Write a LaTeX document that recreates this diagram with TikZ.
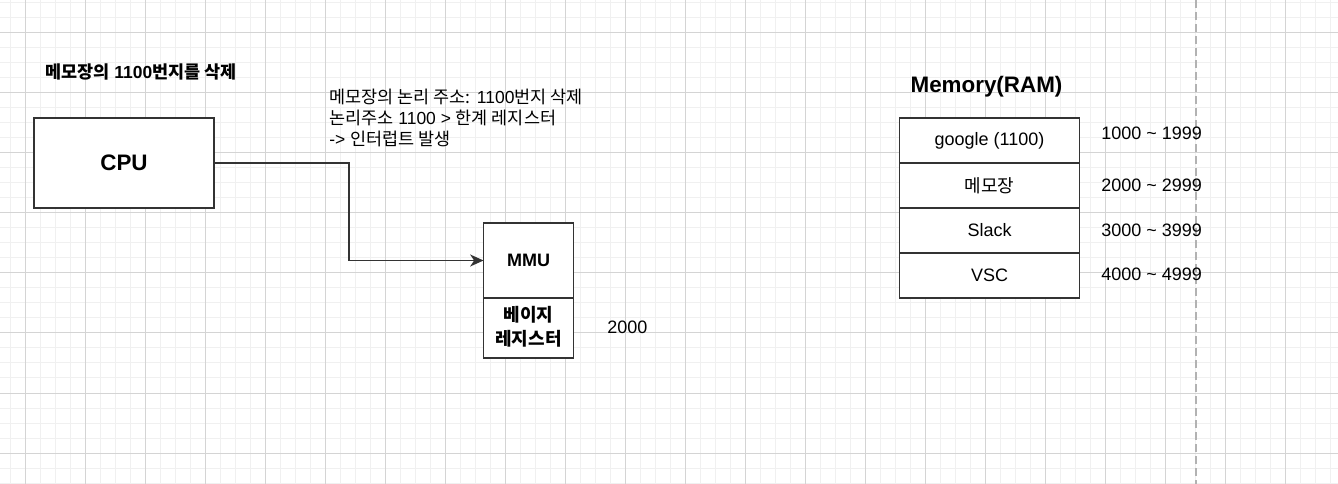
\documentclass[tikz,border=0pt]{standalone}
\usepackage{fontspec}
\setmainfont{Liberation Sans}
\newfontfamily\kr{Noto Sans CJK KR}
\usetikzlibrary{
positioning,%
arrows.meta
}
\definecolor{gridminor}{HTML}{F0F0F0}
\definecolor{gridmajor}{HTML}{D4D4D4}
\definecolor{edge}{HTML}{333333}
\newcommand{\ko}[1]{{\kr #1}}
\tikzset{
    block/.style={draw=edge, line width=1.1pt, fill=white, inner sep=0pt, outer sep=0pt, font=\fontsize{13.5}{16}\selectfont},
    cpubox/.style={block, minimum width=135pt, minimum height=67.5pt, font=\fontsize{16.8}{20}\selectfont\bfseries},
    mmubox/.style={block, minimum width=67.5pt, minimum height=56.25pt, font=\fontsize{13.5}{16}\selectfont\bfseries},
    regbox/.style={block, minimum width=67.5pt, minimum height=45pt, align=center, font=\fontsize{13.5}{17.25}\selectfont\bfseries\kr},
    cell/.style={block, minimum width=135pt, minimum height=33.75pt},
    addr/.style={anchor=west, inner sep=0pt, font=\fontsize{13.5}{16}\selectfont},
    note/.style={anchor=west, inner sep=0pt, align=left, font=\fontsize{13.1}{16.1}\selectfont},
    heading/.style={inner sep=0pt, font=\fontsize{16.8}{20}\selectfont\bfseries},
    link/.style={draw=edge, line width=1.1pt, -{Stealth[length=10pt,width=9pt,inset=3pt]}}
}

\begin{document}
\begin{tikzpicture}[x=0.75pt, y=-0.75pt]
    \useasboundingbox (0,0) rectangle (1338,484);
    % grid
    \foreach \gx in {10,25,...,1330} \draw[gridminor, line width=0.75pt] (\gx,0) -- (\gx,484);
    \foreach \gy in {3,18,...,483} \draw[gridminor, line width=0.75pt] (0,\gy) -- (1338,\gy);
    \foreach \gx in {25,85,...,1325} \draw[gridmajor, line width=0.75pt] (\gx,0) -- (\gx,484);
    \foreach \gy in {33,93,...,453} \draw[gridmajor, line width=0.75pt] (0,\gy) -- (1338,\gy);
    \draw[gray!60, line width=1.1pt, dash pattern=on 6pt off 3pt] (1196,0) -- (1196,484);

    \node[heading, anchor=west, font=\fontsize{13.1}{16}\selectfont\bfseries] (title) at (45,72) {\ko{메모장의} 1100\ko{번지를 삭제}};
    \node[cpubox] (cpu) at (124,163) {CPU};
    \node[note] (why) at (329,118) {\ko{메모장의 논리 주소:} 1100\ko{번지 삭제}\\ \ko{논리주소} 1100 > \ko{한계 레지스터}\\ -> \ko{인터럽트 발생}};

    \node[mmubox] (mmu) at (528.5,260.5) {MMU};
    \node[regbox, below=0pt of mmu] (basereg) {\raisebox{3pt}{\shortstack{베이지\\[2pt]레지스터}}};
    \node[addr] (baseval) at (607,327) {2000};

    \coordinate (turn) at (349,210);
    \draw[link] (cpu.east) -| (turn) |- (mmu.west);

    \node[heading] (memtitle) at (986.5,87) {Memory(RAM)};
    \node[cell] (m1) at (989.5,140.5) {google (1100)};
    \node[cell, below=0pt of m1] (m2) {\ko{메모장}};
    \node[cell, below=0pt of m2] (m3) {Slack};
    \node[cell, below=0pt of m3] (m4) {VSC};
    \node[addr] (r1) at (1101,133) {1000 \textasciitilde{} 1999};
    \node[addr] (r2) at (1101,185) {2000 \textasciitilde{} 2999};
    \node[addr] (r3) at (1101,230) {3000 \textasciitilde{} 3999};
    \node[addr] (r4) at (1101,274) {4000 \textasciitilde{} 4999};
\end{tikzpicture}
\end{document}
